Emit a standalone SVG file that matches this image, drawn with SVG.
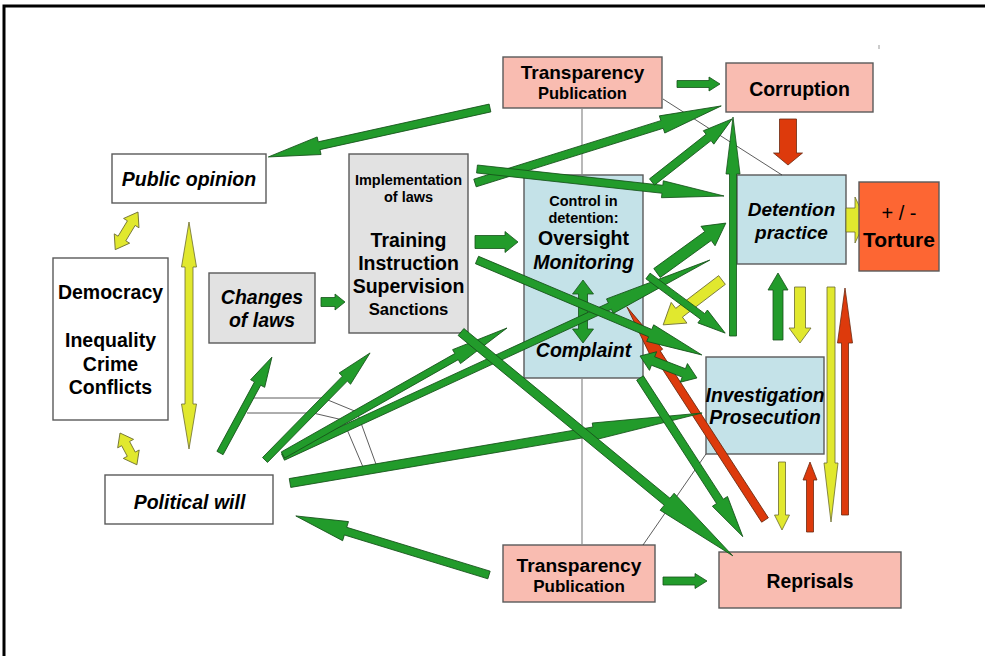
<svg xmlns="http://www.w3.org/2000/svg" width="985" height="656" viewBox="0 0 985 656">
<style>
.nd{stroke:#5a5a5a;stroke-width:1.4}
.w{fill:#ffffff}.pk{fill:#f9bcb1}.bl{fill:#c4e2e8}.gy{fill:#e2e2e2}.or{fill:#fd6633}
text{font-family:"Liberation Sans",Arial,sans-serif;font-weight:bold;fill:#000;text-anchor:middle}
.it{font-style:italic}
.g{fill:#229b2b;stroke:#16521a;stroke-width:0.8;stroke-linejoin:miter}
.y{fill:#e1e82e;stroke:#6b6b30;stroke-width:0.8}
.r{fill:#dd3a0c;stroke:#6b2a10;stroke-width:0.8}
.ln{fill:none;stroke:#333;stroke-width:0.8}
.lg{fill:none;stroke:#8a8a8a;stroke-width:1.2}
</style>
<rect width="985" height="656" fill="#fff"/>
<path d="M4,656 V6 H985" fill="none" stroke="#000" stroke-width="3"/>
<path d="M879,45 V49" stroke="#999" stroke-width="1"/>

<g id="transparency-top"><rect class="nd pk" x="503" y="57" width="159" height="51"/><text x="582.5" y="79" font-size="19">Transparency</text><text x="582.5" y="99" font-size="16.5">Publication</text></g>
<g id="corruption"><rect class="nd pk" x="726" y="63" width="147" height="49"/><text x="799.5" y="95.5" font-size="19.5">Corruption</text></g>
<g id="detention"><rect class="nd bl" x="737" y="175" width="109" height="89"/><text class="it" x="791.5" y="215.5" font-size="19">Detention</text><text class="it" x="791.5" y="239" font-size="19">practice</text></g>
<g id="public-opinion"><rect class="nd w" x="112" y="154" width="154" height="49"/><text class="it" x="189" y="186" font-size="19.5">Public opinion</text></g>
<g id="democracy"><rect class="nd w" x="53" y="258" width="115" height="162"/><text x="110.5" y="299" font-size="19.5">Democracy</text><text x="110.5" y="347" font-size="19.5">Inequality</text><text x="110.5" y="371" font-size="19.5">Crime</text><text x="110.5" y="394" font-size="19.5">Conflicts</text></g>
<g id="changes-of-laws"><rect class="nd gy" x="209" y="273" width="106" height="70"/><text class="it" x="262" y="304" font-size="19.5">Changes</text><text class="it" x="262" y="327" font-size="19.5">of laws</text></g>
<g id="implementation"><rect class="nd gy" x="349" y="154" width="119" height="179"/><text x="408.5" y="185" font-size="14.5">Implementation</text><text x="408.5" y="201.5" font-size="14.5">of laws</text><text x="408.5" y="246.5" font-size="19.5">Training</text><text x="408.5" y="270" font-size="19.5">Instruction</text><text x="408.5" y="292.5" font-size="19.5">Supervision</text><text x="408.5" y="315" font-size="16.7">Sanctions</text></g>
<g id="control"><rect class="nd bl" x="524" y="175" width="119" height="203"/><text x="583.5" y="206" font-size="14.5">Control in</text><text x="583.5" y="223" font-size="14.5">detention:</text><text x="583.5" y="245" font-size="19.5">Oversight</text><text class="it" x="583.5" y="269" font-size="19.5">Monitoring</text><text class="it" x="583.5" y="356.5" font-size="19.5">Complaint</text></g>
<g id="investigation"><rect class="nd bl" x="706" y="357" width="118" height="97"/><text class="it" x="765" y="401.5" font-size="19.3">Investigation</text><text class="it" x="765" y="424" font-size="19.3">Prosecution</text></g>
<g id="political-will"><rect class="nd w" x="105" y="475" width="168" height="49"/><text class="it" x="189.5" y="509" font-size="19.5">Political will</text></g>
<g id="transparency-bottom"><rect class="nd pk" x="503" y="545" width="152" height="57"/><text x="579" y="571.5" font-size="19.2">Transparency</text><text x="579" y="591.5" font-size="17">Publication</text></g>
<g id="reprisals"><rect class="nd pk" x="719" y="552" width="182" height="56"/><text x="810" y="588" font-size="19.3">Reprisals</text></g>

<g id="connectors">
<path class="lg" d="M582,108 V175 M582,378 V545"/>
<path class="ln" d="M663,99 L782,175 M706,454 L643,545 M253,398 H323 L357,412 L377,467 M247,413 H313 L343,420 L363,467"/>
<g transform="translate(138,212) rotate(121.18)"><polygon class="y" points="0,0 13,-9 13,-4.5 31,-4.5 31,-9 44,0 31,9 31,4.5 13,4.5 13,9"/></g>
<g transform="translate(120,433) rotate(62.02)"><polygon class="y" points="0,0 12,-9 12,-4.5 24,-4.5 24,-9 36,0 24,9 24,4.5 12,4.5 12,9"/></g>
<g transform="translate(189,222) rotate(90)"><polygon class="y" points="0,0 45,-7.5 45,-4 182,-4 182,-7.5 227,0 182,7.5 182,4 45,4 45,7.5"/></g>
<g transform="translate(846,220)"><polygon class="y" points="0,-12 9,-12 9,-23 20,0 9,23 9,12 0,12"/></g>
<g transform="translate(722,280) rotate(142.67)"><polygon class="y" points="0,-5.5 54,-5.5 54,-13 74,0 54,13 54,5.5 0,5.5"/></g>
<g transform="translate(800,287) rotate(90)"><polygon class="y" points="0,-5.5 41,-5.5 41,-11 56,0 41,11 41,5.5 0,5.5"/></g>
<g transform="translate(831,287) rotate(90)"><polygon class="y" points="0,-4 176,-4 176,-7 235,0 176,7 176,4 0,4"/></g>
<g transform="translate(782,462) rotate(90)"><polygon class="y" points="0,-3.5 53,-3.5 53,-7.5 68,0 53,7.5 53,3.5 0,3.5"/></g>
<g transform="translate(788,119) rotate(90)"><polygon class="r" points="0,-8.5 34,-8.5 34,-14.5 46,0 34,14.5 34,8.5 0,8.5"/></g>
<g transform="translate(845,515) rotate(-90)"><polygon class="r" points="0,-3.5 172,-3.5 172,-7.5 227,0 172,7.5 172,3.5 0,3.5"/></g>
<g transform="translate(810,532) rotate(-90)"><polygon class="r" points="0,-3.5 52,-3.5 52,-7 70,0 52,7 52,3.5 0,3.5"/></g>
<g transform="translate(765,520) rotate(-122.94)"><polygon class="r" points="0,-4 199,-4 199,-7 254,0 199,7 199,4 0,4"/></g>
<g transform="translate(490,108) rotate(167.55)"><polygon class="g" points="0,-4 175,-4 175,-9 227,0 175,9 175,4 0,4"/></g>
<g transform="translate(677,84)"><polygon class="g" points="0,-3.5 32,-3.5 32,-7 43,0 32,7 32,3.5 0,3.5"/></g>
<g transform="translate(475,183) rotate(-17.38)"><polygon class="g" points="0,-4 196,-4 196,-9 258,0 196,9 196,4 0,4"/></g>
<g transform="translate(477,169) rotate(6.24)"><polygon class="g" points="0,-4 186.5,-4 186.5,-8.5 248.5,0 186.5,8.5 186.5,4 0,4"/></g>
<g transform="translate(652,182) rotate(-38.22)"><polygon class="g" points="0,-4 72,-4 72,-8.5 102,0 72,8.5 72,4 0,4"/></g>
<g transform="translate(733,336) rotate(-90)"><polygon class="g" points="0,-3.5 162,-3.5 162,-7 219,0 162,7 162,3.5 0,3.5"/></g>
<g transform="translate(475,242)"><polygon class="g" points="0,-6.5 30,-6.5 30,-10.5 43,0 30,10.5 30,6.5 0,6.5"/></g>
<g transform="translate(321,302)"><polygon class="g" points="0,-4.5 14,-4.5 14,-8 24,0 14,8 14,4.5 0,4.5"/></g>
<g transform="translate(583,280) rotate(90)"><polygon class="g" points="0,0 14,-10.5 14,-4.5 49,-4.5 49,-10.5 63,0 49,10.5 49,4.5 14,4.5 14,10.5"/></g>
<g transform="translate(657,273) rotate(-35.93)"><polygon class="g" points="0,-5.5 63,-5.5 63,-12 85,0 63,12 63,5.5 0,5.5"/></g>
<g transform="translate(283,457) rotate(-24.77)"><polygon class="g" points="0,-3.5 360,-3.5 360,-8 470,0 360,8 360,3.5 0,3.5"/></g>
<g transform="translate(283,455) rotate(-29.55)"><polygon class="g" points="0,-3.5 199.5,-3.5 199.5,-8 257.5,0 199.5,8 199.5,3.5 0,3.5"/></g>
<g transform="translate(220,453) rotate(-61.56)"><polygon class="g" points="0,-3.5 79,-3.5 79,-8 109,0 79,8 79,3.5 0,3.5"/></g>
<g transform="translate(265,460) rotate(-45.54)"><polygon class="g" points="0,-3.5 114,-3.5 114,-8 150,0 114,8 114,3.5 0,3.5"/></g>
<g transform="translate(290,483) rotate(-9.64)"><polygon class="g" points="0,-4.5 308,-4.5 308,-8.5 418,0 308,8.5 308,4.5 0,4.5"/></g>
<g transform="translate(648,276) rotate(36.5)"><polygon class="g" points="0,-3.5 68,-3.5 68,-8 96,0 68,8 68,3.5 0,3.5"/></g>
<g transform="translate(477,260) rotate(22.89)"><polygon class="g" points="0,-4 188,-4 188,-9 244,0 188,9 188,4 0,4"/></g>
<g transform="translate(640,356) rotate(21.1)"><polygon class="g" points="0,0 14,-10 14,-4.5 47,-4.5 47,-10 61,0 47,10 47,4.5 14,4.5 14,10"/></g>
<g transform="translate(640,378) rotate(57.06)"><polygon class="g" points="0,-4 147,-4 147,-9 189,0 147,9 147,4 0,4"/></g>
<g transform="translate(461,332) rotate(39.47)"><polygon class="g" points="0,-4.5 267,-4.5 267,-11 352,0 267,11 267,4.5 0,4.5"/></g>
<g transform="translate(489,575) rotate(-163)"><polygon class="g" points="0,-4 150,-4 150,-10 202,0 150,10 150,4 0,4"/></g>
<g transform="translate(663,581)"><polygon class="g" points="0,-4 32,-4 32,-7.5 44,0 32,7.5 32,4 0,4"/></g>
<g transform="translate(778,340) rotate(-90)"><polygon class="g" points="0,-5 50,-5 50,-10 67,0 50,10 50,5 0,5"/></g>
</g>

<g id="torture"><rect class="nd or" x="859" y="182" width="80" height="89"/><text x="899" y="220" font-size="20" style="font-weight:normal">+ / -</text><text x="899" y="247" font-size="21">Torture</text></g>
</svg>
